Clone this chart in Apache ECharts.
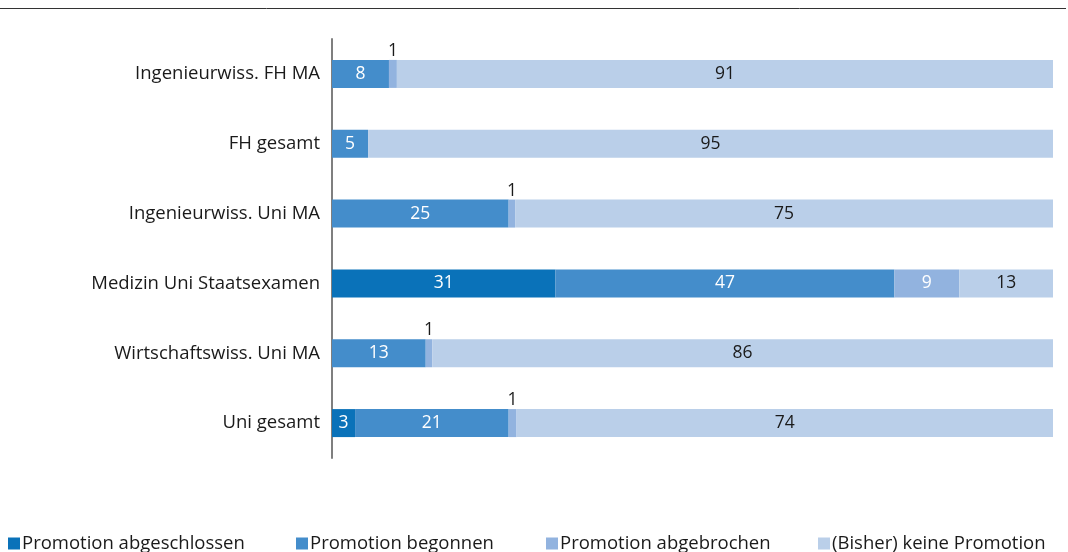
<!DOCTYPE html>
<html>
<head>
<meta charset="utf-8">
<script src="https://cdn.jsdelivr.net/npm/echarts@6/dist/echarts.min.js"></script>
<style>
  html, body { margin: 0; padding: 0; background: #fff; }
  #main { width: 1068px; height: 552px; }
</style>
</head>
<body>
<div id="main"></div>
<script>
// Kategorien (von oben nach unten)
var kategorien = ['Ingenieurwiss. FH MA', 'FH gesamt', 'Ingenieurwiss. Uni MA',
  'Medizin Uni Staatsexamen', 'Wirtschaftswiss. Uni MA', 'Uni gesamt'];

// Anteile in Prozent (Beschriftung gerundet)
var abgeschlossen = [0, 0, 0, 31, 0, 3.2];
var begonnen = [7.9, 5, 24.5, 47, 13, 21.3];
var abgebrochen = [1.1, 0, 0.9, 9, 0.9, 1.1];
var keine = [91, 95, 74.6, 13, 86.1, 74.4];

var serienNamen = ['Promotion abgeschlossen', 'Promotion begonnen', 'Promotion abgebrochen', '(Bisher) keine Promotion'];
var farben = ['#0a72b9', '#448dcb', '#92b3df', '#bacfe9'];

var schrift = '"Open Sans", "Noto Sans", sans-serif';

var myChart = echarts.init(document.getElementById('main'));

// Datenpunkte mit Beschriftung aufbauen
function punkte(werte, farbeText, kleinOben) {
  return werte.map(function (v) {
    if (v <= 0) return { value: v, label: { show: false } };
    if (kleinOben && v < 2) {
      return { value: v, label: { show: true, position: 'top', distance: 0, color: '#1a1a1a' } };
    }
    return { value: v, label: { show: true, position: 'inside', color: farbeText } };
  });
}

var alleWerte = [abgeschlossen, begonnen, abgebrochen, keine];
var textFarben = ['#ffffff', '#ffffff', '#ffffff', '#1a1a1a'];

var series = alleWerte.map(function (werte, i) {
  return {
    name: serienNamen[i],
    type: 'bar',
    stack: 'gesamt',
    barWidth: 28,
    itemStyle: { color: farben[i] },
    label: {
      fontFamily: schrift,
      fontSize: 17.5,
      formatter: function (p) { return Math.round(p.value); }
    },
    data: punkte(werte, textFarben[i], i === 2)
  };
});

// Legende: einzeln positioniert
var legendLinks = [8, 296, 546, 818];
var legenden = serienNamen.map(function (name, i) {
  return {
    data: [name],
    left: legendLinks[i],
    top: 534,
    icon: 'rect',
    itemWidth: 12,
    itemHeight: 12,
    itemGap: 0,
    padding: 0,
    selectedMode: false,
    textStyle: { fontFamily: schrift, fontSize: 18.5, color: '#1a1a1a', padding: [0, 0, 0, -3] }
  };
});

var option = {
  animation: false,
  color: farben,
  legend: legenden,
  grid: { left: 332, right: 15, top: 39, bottom: 94 },
  xAxis: {
    type: 'value',
    min: 0,
    max: 100,
    show: false
  },
  yAxis: {
    type: 'category',
    inverse: true,
    data: kategorien,
    axisLine: { show: true, lineStyle: { color: '#7f7f7f', width: 2 } },
    axisTick: { show: false },
    axisLabel: { fontFamily: schrift, fontSize: 18.5, color: '#1a1a1a', margin: 12 }
  },
  graphic: [{
    type: 'line',
    shape: { x1: 0, y1: 8.5, x2: 1066, y2: 8.5 },
    style: { stroke: '#333333', lineWidth: 1 }
  }],
  series: series
};

myChart.setOption(option);
</script>
</body>
</html>
